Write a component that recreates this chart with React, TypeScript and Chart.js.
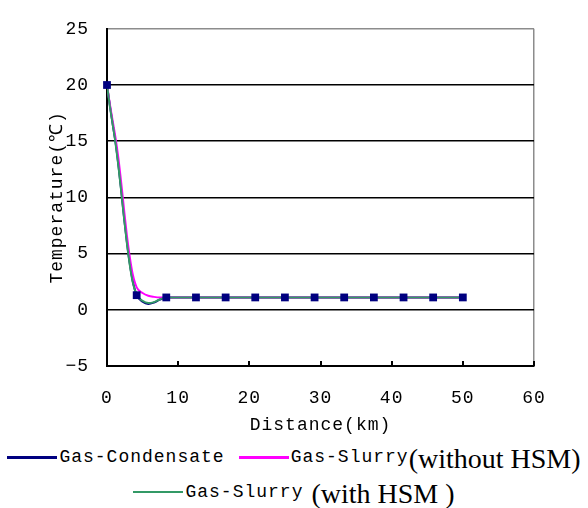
import React, { useEffect, useRef } from "react";
import { Chart, registerables } from "chart.js";

Chart.register(...registerables);

// Distance along the pipeline (km)
const distanceKm = [0, 0.4, 0.8, 1.2, 1.6, 2.0, 2.4, 2.8, 3.2, 3.6, 4.17, 5.0, 5.8, 6.6, 7.4, 8.33, 12.5, 16.67, 20.83, 25, 29.17, 33.33, 37.5, 41.67, 45.83, 50];

// Temperature (°C)
const gasCondensate = [20, 18.2, 16.5, 14.9, 12.9, 10.6, 8.2, 6.0, 4.1, 2.6, 1.3, 0.72, 0.52, 0.65, 0.9, 1.1, 1.1, 1.1, 1.1, 1.1, 1.1, 1.1, 1.1, 1.1, 1.1, 1.1];
const gasSlurryWithoutHSM = [20, 18.3, 16.8, 15.3, 13.5, 11.3, 8.9, 6.6, 4.7, 3.2, 2.0, 1.5, 1.25, 1.15, 1.1, 1.1, 1.1, 1.1, 1.1, 1.1, 1.1, 1.1, 1.1, 1.1, 1.1, 1.1];
const gasSlurryWithHSM = [20, 18.1, 16.5, 14.8, 12.8, 10.5, 8.1, 5.9, 4.0, 2.5, 1.35, 0.8, 0.6, 0.68, 0.92, 1.1, 1.1, 1.1, 1.1, 1.1, 1.1, 1.1, 1.1, 1.1, 1.1, 1.1];

// Distances at which the Gas-Condensate series shows square markers
const condensateMarkerKm = [0, 4.17, 8.33, 12.5, 16.67, 20.83, 25, 29.17, 33.33, 37.5, 41.67, 45.83, 50];

const xTicks = { min: 0, max: 60, step: 10 };
const yTicks = { min: -5, max: 25, step: 5 };

const NAVY = "#000080";
const MAGENTA = "#ff00ff";
const GREEN = "#339966";
const MONO = "'Liberation Mono', 'DejaVu Sans Mono', monospace";
const SERIF = "'Liberation Serif', 'Times New Roman', serif";
const FONT_SIZE = 18;

const toPoints = (ys: number[]) => distanceKm.map((x, i) => ({ x, y: ys[i] }));

const letterSpacingPlugin = {
  id: "letterSpacing",
  beforeDraw(chart: any) {
    chart.ctx.letterSpacing = "1px";
  },
};

const innerTicksPlugin = {
  id: "innerTicks",
  afterDraw(chart: any) {
    const xs = chart.scales.x;
    const ctx = chart.ctx;
    const bottom = chart.chartArea.bottom;
    ctx.save();
    ctx.strokeStyle = "#000";
    ctx.lineWidth = 2;
    xs.ticks.forEach((t: any) => {
      if (t.value === xTicks.min) return;
      const px = Math.round(xs.getPixelForValue(t.value));
      ctx.beginPath();
      ctx.moveTo(px, bottom);
      ctx.lineTo(px, bottom - 5);
      ctx.stroke();
    });
    ctx.restore();
  },
};

function TemperatureChart() {
  const ref = useRef<HTMLCanvasElement | null>(null);
  useEffect(() => {
    if (!ref.current) return;
    const markerData = toPoints(gasCondensate).filter((p) => condensateMarkerKm.includes(p.x));
    const chart = new Chart(ref.current, {
      type: "scatter",
      data: {
        datasets: [
          {
            label: "Gas-Condensate markers",
            data: markerData,
            showLine: false,
            pointStyle: "rect",
            pointRadius: 5.5,
            backgroundColor: NAVY,
            borderColor: NAVY,
            borderWidth: 0,
            clip: false,
            order: 0,
          },
          {
            label: "Gas-Condensate",
            data: toPoints(gasCondensate),
            showLine: true,
            borderColor: NAVY,
            backgroundColor: NAVY,
            borderWidth: 2,
            pointRadius: 0,
            cubicInterpolationMode: "monotone",
            order: 3,
          },
          {
            label: "Gas-Slurry(without HSM)",
            data: toPoints(gasSlurryWithoutHSM),
            showLine: true,
            borderColor: MAGENTA,
            backgroundColor: MAGENTA,
            borderWidth: 2,
            pointRadius: 0,
            cubicInterpolationMode: "monotone",
            order: 2,
          },
          {
            label: "Gas-Slurry (with HSM )",
            data: toPoints(gasSlurryWithHSM),
            showLine: true,
            borderColor: GREEN,
            backgroundColor: GREEN,
            borderWidth: 2,
            pointRadius: 0,
            cubicInterpolationMode: "monotone",
            order: 1,
          },
        ],
      },
      options: {
        responsive: false,
        animation: false,
        layout: { padding: { left: 0, right: 54, top: 17, bottom: 0 } },
        plugins: { legend: { display: false }, tooltip: { enabled: false } },
        scales: {
          x: {
            type: "linear",
            min: xTicks.min,
            max: xTicks.max,
            afterFit: (s: any) => {
              s.height = 74;
            },
            ticks: {
              stepSize: xTicks.step,
              color: "#000",
              padding: 21,
              maxRotation: 0,
              font: { family: MONO, size: FONT_SIZE },
            },
            grid: {
              drawTicks: false,
              color: (c: any) => (c.tick && c.tick.value === xTicks.max ? "#8c8c8c" : "rgba(0,0,0,0)"),
              lineWidth: 1.5,
            },
            border: { color: "#000", width: 2 },
            title: {
              display: true,
              text: "Distance(km)",
              color: "#000",
              font: { family: MONO, size: FONT_SIZE },
              padding: { top: 0, bottom: 4 },
            },
          },
          y: {
            type: "linear",
            min: yTicks.min,
            max: yTicks.max,
            afterFit: (s: any) => {
              s.width = 107;
            },
            ticks: {
              stepSize: yTicks.step,
              color: "#000",
              padding: 18,
              font: { family: MONO, size: FONT_SIZE },
              callback: (v: any) => (Number(v) < 0 ? "\u2212" + Math.abs(Number(v)) : String(v)),
            },
            grid: {
              drawTicks: false,
              color: (c: any) => (c.tick && c.tick.value === yTicks.max ? "#8c8c8c" : "#000"),
              lineWidth: 1.5,
            },
            border: { color: "#000", width: 2 },
            title: {
              display: true,
              text: "Temperature(\u2103)",
              color: "#000",
              font: { family: MONO, size: FONT_SIZE },
              padding: { top: 46, bottom: 0 },
            },
          },
        },
      },
      plugins: [letterSpacingPlugin, innerTicksPlugin],
    } as any);
    return () => chart.destroy();
  }, []);
  return <canvas ref={ref} width={588} height={440} style={{ display: "block" }} />;
}

const monoText: React.CSSProperties = {
  fontFamily: MONO,
  fontSize: FONT_SIZE,
  letterSpacing: "1px",
  color: "#000",
  lineHeight: 1,
  whiteSpace: "pre",
};
const serifText: React.CSSProperties = {
  fontFamily: SERIF,
  fontSize: 28,
  color: "#000",
  lineHeight: 1,
  whiteSpace: "pre",
  position: "relative",
  top: 2,
};
const swatch = (color: string, h: number): React.CSSProperties => ({
  display: "inline-block",
  width: 50,
  height: h,
  background: color,
  marginRight: 2,
});

export default function App() {
  return (
    <div style={{ position: "fixed", left: 0, top: 0, width: 588, height: 508, background: "#fff", overflow: "hidden" }}>
      <TemperatureChart />
      <div
        style={{
          position: "absolute",
          left: 0,
          top: 440,
          width: 588,
          height: 34,
          display: "flex",
          justifyContent: "center",
          alignItems: "center",
        }}
      >
        <span style={swatch(NAVY, 3)} />
        <span style={monoText}>Gas-Condensate</span>
        <span style={{ ...swatch(MAGENTA, 3), marginLeft: 14 }} />
        <span style={monoText}>Gas-Slurry</span>
        <span style={serifText}>(without HSM)</span>
      </div>
      <div
        style={{
          position: "absolute",
          left: 0,
          top: 475,
          width: 588,
          height: 34,
          display: "flex",
          justifyContent: "center",
          alignItems: "center",
        }}
      >
        <span style={swatch(GREEN, 2)} />
        <span style={monoText}>Gas-Slurry</span>
        <span style={{ ...serifText, marginLeft: 8 }}>(with HSM )</span>
      </div>
    </div>
  );
}
